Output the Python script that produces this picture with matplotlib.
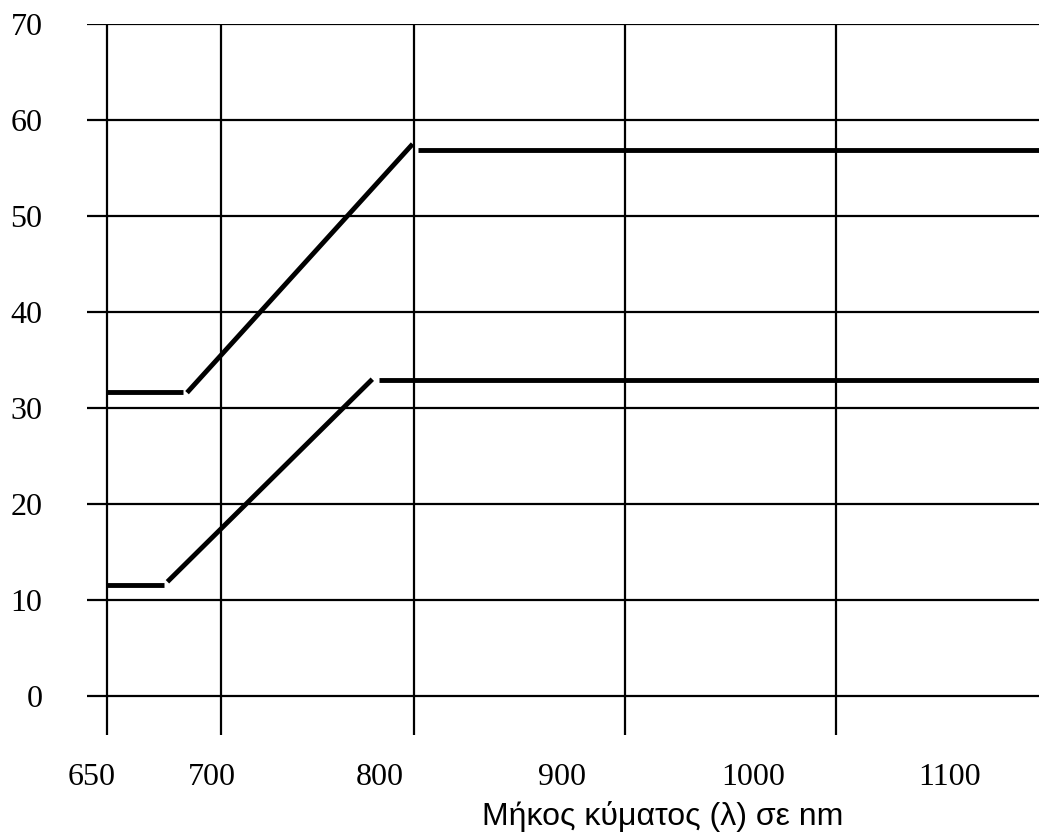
import numpy as np
import matplotlib
matplotlib.use("Agg")
import matplotlib.pyplot as plt

# Data (wavelength in nm, value)
upper_flat_x = [650, 683.3]
upper_flat_y = [31.7, 31.7]
upper_rise_x = [685.1, 799.3]
upper_rise_y = [31.6, 57.5]
upper_high_x = [801.8, 1100]
upper_high_y = [56.9, 56.9]

lower_flat_x = [650, 675]
lower_flat_y = [11.6, 11.6]
lower_rise_x = [676.5, 778.4]
lower_rise_y = [11.9, 33.0]
lower_high_x = [781.9, 1100]
lower_high_y = [32.9, 32.9]

grid_x = [650, 700, 800, 900, 1000]
y_ticks = [0, 10, 20, 30, 40, 50, 60, 70]
x_labels = ['650', '700', '800', '900', '1000', '1100']
x_label_pos = [643.4, 696.1, 782.4, 870.1, 960.8, 1053.6]
xlabel_text = 'Μήκος κύματος (λ) σε nm'

# non-uniform axis spacing as drawn in the original
nm_pts = np.array([600, 650, 700, 800, 900, 1000, 1200], dtype=float)
pos_pts = np.array([-7, 107, 221, 414, 625, 836, 1258], dtype=float)

def fwd(x):
    return np.interp(x, nm_pts, pos_pts)

def inv(p):
    return np.interp(p, pos_pts, nm_pts)

fig = plt.figure(figsize=(10.39, 8.39), dpi=100)
ax = fig.add_axes([87/1039, 1-735/839, (1039-87)/1039, (735-24)/839])
ax.set_xscale('function', functions=(fwd, inv))
ax.set_xlim(inv(87), inv(1039))
ax.set_ylim(-4.06, 70)

for s in ax.spines.values():
    s.set_visible(False)

for gx in grid_x:
    ax.axvline(gx, color='black', lw=1.6, zorder=1)
for gy in y_ticks:
    ax.axhline(gy, color='black', lw=1.6, zorder=1)

lw = 3.5
for xs, ys in [(upper_flat_x, upper_flat_y), (upper_rise_x, upper_rise_y),
               (upper_high_x, upper_high_y), (lower_flat_x, lower_flat_y),
               (lower_rise_x, lower_rise_y), (lower_high_x, lower_high_y)]:
    ax.plot(xs, ys, color='black', lw=lw, solid_capstyle='butt', zorder=3)

serif = ['Liberation Serif', 'DejaVu Serif']
ax.set_yticks(y_ticks)
ax.set_yticklabels([str(v) for v in y_ticks], fontfamily=serif, fontsize=23)
ax.tick_params(axis='y', length=0, pad=32)

ax.set_xticks([])
ax.set_xticks(x_label_pos, minor=True)
ax.set_xticklabels(x_labels, minor=True, fontfamily=serif, fontsize=23)
ax.tick_params(axis='x', which='both', length=0, pad=20)

ax.set_xlabel(xlabel_text, fontfamily=['Liberation Sans', 'DejaVu Sans'], fontsize=23, va='center')
ax.xaxis.set_label_coords((663-87)/952, (735-816)/711)

fig.savefig('out.png', dpi=100)
